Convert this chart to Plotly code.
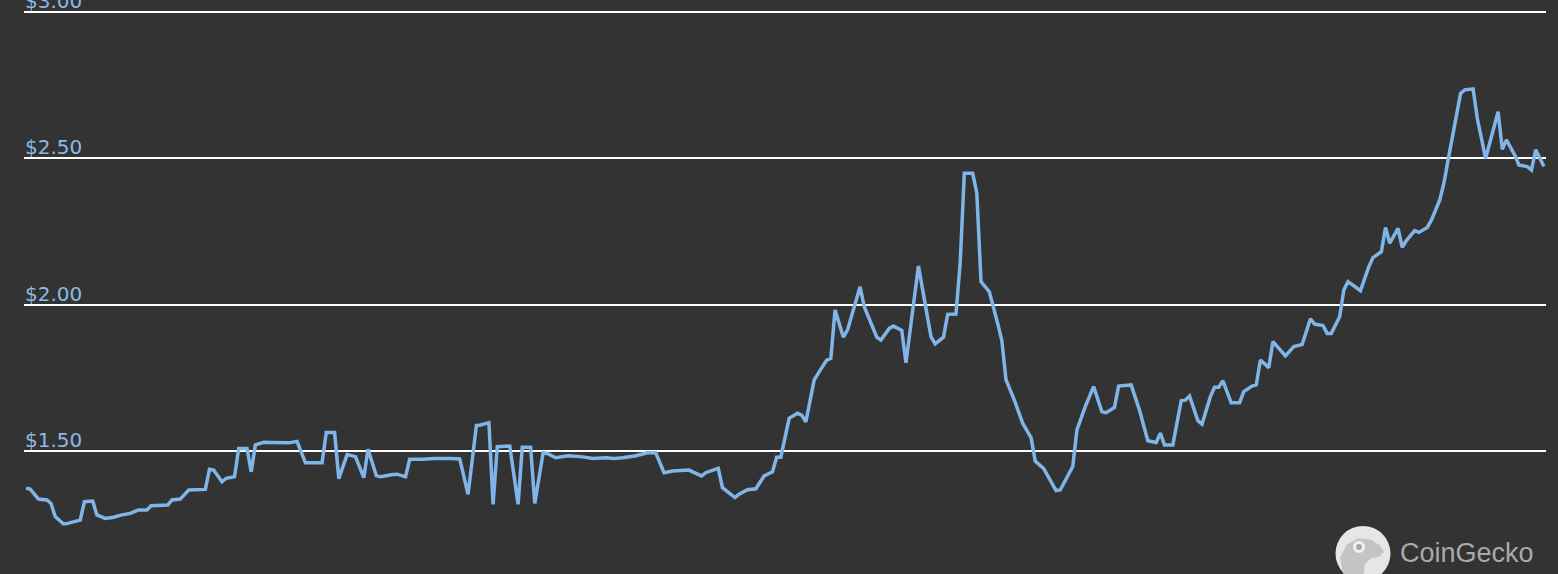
import plotly.graph_objects as go

# Day index (daily data) and price in USD
days = [0, 1, 3, 5, 6, 7, 9, 10, 13, 14, 16, 17, 19, 21, 23, 25, 27, 29, 30, 34,
        35, 37, 39, 42, 43, 44, 45, 47, 48, 50, 51, 53, 54, 55, 57, 59, 63, 65, 67, 71,
        72, 74, 75, 77, 79, 81, 82, 84, 85, 88, 89, 91, 92, 95, 98, 102, 104, 106, 108, 109,
        111, 112, 113, 116, 118, 119, 121, 122, 124, 125, 127, 130, 133, 136, 139, 141, 143, 146, 149, 151,
        153, 155, 159, 160, 162, 163, 166, 167, 170, 171, 173, 175, 177, 179, 180, 181, 183, 185, 186, 187,
        189, 190, 192, 193, 194, 196, 197, 200, 201, 204, 205, 207, 208, 210, 211, 214, 217, 218, 220, 221,
        223, 224, 225, 227, 228, 229, 231, 233, 234, 235, 237, 239, 241, 242, 244, 247, 248, 251, 252, 254,
        256, 258, 259, 261, 262, 265, 267, 269, 271, 272, 273, 275, 277, 278, 279, 281, 282, 284, 285, 286,
        287, 289, 291, 292, 294, 295, 296, 298, 299, 302, 304, 306, 308, 309, 311, 312, 313, 315, 316, 317,
        320, 322, 323, 325, 326, 327, 329, 330, 331, 333, 334, 336, 337, 339, 340, 341, 343, 344, 345, 347,
        348, 350, 353, 354, 355, 357, 358, 360, 361, 362, 364]

prices = [1.373, 1.370, 1.336, 1.333, 1.321, 1.276, 1.251, 1.253, 1.264, 1.327, 1.329, 1.282, 1.270, 1.274, 1.282, 1.287, 1.299, 1.299, 1.313, 1.316,
          1.333, 1.336, 1.367, 1.367, 1.369, 1.438, 1.435, 1.395, 1.407, 1.412, 1.509, 1.509, 1.429, 1.521, 1.530, 1.529, 1.528, 1.533, 1.460, 1.460,
          1.563, 1.563, 1.406, 1.488, 1.481, 1.409, 1.506, 1.416, 1.412, 1.420, 1.421, 1.412, 1.472, 1.472, 1.475, 1.475, 1.473, 1.352, 1.587, 1.589,
          1.597, 1.318, 1.515, 1.517, 1.318, 1.513, 1.513, 1.321, 1.494, 1.492, 1.477, 1.484, 1.481, 1.475, 1.477, 1.475, 1.477, 1.483, 1.494, 1.494,
          1.426, 1.432, 1.435, 1.428, 1.415, 1.426, 1.441, 1.375, 1.341, 1.353, 1.368, 1.371, 1.415, 1.429, 1.479, 1.479, 1.612, 1.629, 1.623, 1.600,
          1.743, 1.766, 1.811, 1.817, 1.982, 1.889, 1.914, 2.061, 1.993, 1.889, 1.879, 1.919, 1.927, 1.912, 1.802, 2.132, 1.891, 1.866, 1.889, 1.967,
          1.968, 2.141, 2.449, 2.449, 2.381, 2.079, 2.044, 1.936, 1.877, 1.743, 1.674, 1.595, 1.546, 1.466, 1.441, 1.365, 1.367, 1.447, 1.572, 1.652,
          1.720, 1.634, 1.631, 1.649, 1.722, 1.726, 1.640, 1.535, 1.529, 1.561, 1.521, 1.521, 1.672, 1.674, 1.688, 1.604, 1.592, 1.686, 1.718, 1.718,
          1.740, 1.665, 1.665, 1.703, 1.722, 1.726, 1.811, 1.785, 1.874, 1.825, 1.857, 1.864, 1.952, 1.934, 1.929, 1.902, 1.902, 1.959, 2.050, 2.079,
          2.048, 2.130, 2.161, 2.181, 2.264, 2.210, 2.261, 2.196, 2.219, 2.253, 2.247, 2.264, 2.289, 2.358, 2.415, 2.494, 2.637, 2.722, 2.734, 2.737,
          2.637, 2.500, 2.659, 2.531, 2.563, 2.511, 2.477, 2.472, 2.460, 2.529, 2.472]

tick_values = [1.5, 2.0, 2.5, 3.0]
tick_labels = ["$1.50", "$2.00", "$2.50", "$3.00"]

BG = "#333333"
LINE = "#80b5ea"
LABEL = "#8db9e6"

fig = go.Figure()
fig.add_trace(go.Scatter(
    x=days, y=prices, mode="lines",
    line=dict(color=LINE, width=3.5),
    hoverinfo="skip", showlegend=False,
))

fig.update_layout(
    width=1558, height=574,
    margin=dict(l=24, r=12, t=0, b=0),
    paper_bgcolor=BG, plot_bgcolor=BG,
    xaxis=dict(range=[-0.48, 364.48], showgrid=False, zeroline=False,
               showticklabels=False, showline=False, ticks=""),
    yaxis=dict(range=[1.080, 3.041], tickvals=tick_values,
               showgrid=True, gridcolor="#ffffff", gridwidth=2,
               zeroline=False, showline=False, ticks="", showticklabels=False),
    font=dict(family="DejaVu Sans"),
)

# Y-axis labels sitting above their gridlines, left-aligned
for v, t in zip(tick_values, tick_labels):
    fig.add_annotation(text=t, xref="paper", yref="y", x=0, y=v,
                       xanchor="left", yanchor="bottom", xshift=-1, yshift=-3,
                       showarrow=False,
                       font=dict(family="DejaVu Sans", size=20, color=LABEL))

# CoinGecko watermark
cx = (1363 - 24) / 1522
cy = 1 - 553.5 / 574
fig.add_shape(type="circle", xref="paper", yref="paper", xsizemode="pixel", ysizemode="pixel",
              xanchor=cx, yanchor=cy, x0=-27.5, x1=27.5, y0=-27.5, y1=27.5,
              fillcolor="#e6e6e6", line=dict(width=0), layer="above")
fig.add_shape(type="path", xref="paper", yref="paper", xsizemode="pixel", ysizemode="pixel",
              xanchor=cx, yanchor=cy,
              path="M -20 -20 L -23 -4 L -16 9 L -5 15 L 8 14 L 17 8 L 21 2 L 17 -3 L 8 -5 L 2 -10 L 0 -27 L -15 -22 Z",
              fillcolor="#c4c4c4", line=dict(width=0), layer="above")
fig.add_shape(type="circle", xref="paper", yref="paper", xsizemode="pixel", ysizemode="pixel",
              xanchor=cx, yanchor=cy, x0=-10, x1=2, y0=0.5, y1=12.5,
              fillcolor="#f2f2f2", line=dict(width=0), layer="above")
fig.add_shape(type="circle", xref="paper", yref="paper", xsizemode="pixel", ysizemode="pixel",
              xanchor=cx, yanchor=cy, x0=-7, x1=-1, y0=3.5, y1=9.5,
              fillcolor="#a8a8a8", line=dict(width=0), layer="above")
fig.add_annotation(text="CoinGecko", xref="paper", yref="paper",
                   x=(1398 - 24) / 1522, y=1 - 553 / 574, xanchor="left", yanchor="middle",
                   showarrow=False,
                   font=dict(family="Liberation Sans", size=27, color="#a9a9a9"))

fig.write_html("out.html", config={"displayModeBar": False, "staticPlot": True},
               post_script="document.body.style.margin='0';document.body.style.background='#333333';")
